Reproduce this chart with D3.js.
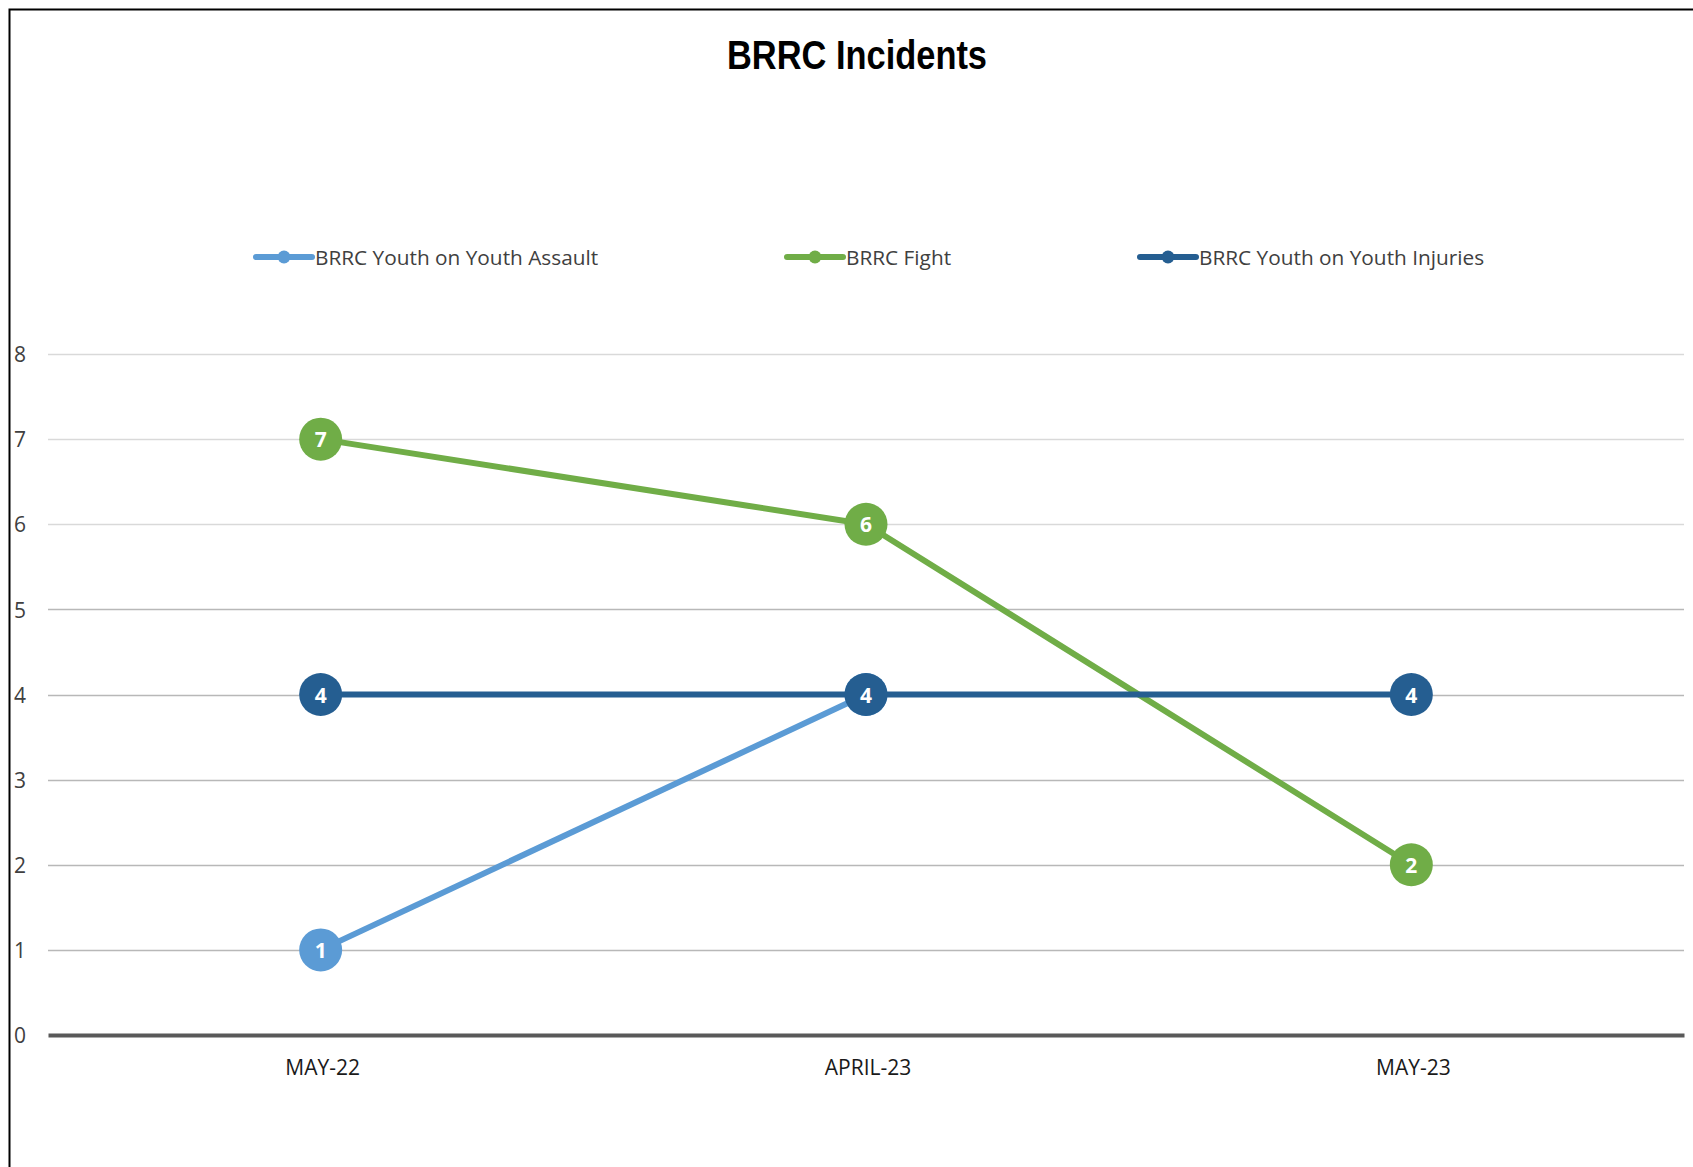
<!DOCTYPE html>
<html>
<head>
<meta charset="utf-8">
<script src="https://cdn.jsdelivr.net/npm/d3@7"></script>
<style>
  html, body { margin: 0; padding: 0; background: #fff; }
  svg { display: block; }
</style>
</head>
<body>
<svg id="chart" width="1693" height="1167"></svg>
<script>
// Monthly incident counts per category
const months = ["MAY-22", "APRIL-23", "MAY-23"];
const assault = [1, 4, null];
const fight = [7, 6, 2];
const injuries = [4, 4, 4];
const seriesNames = ["BRRC Youth on Youth Assault", "BRRC Fight", "BRRC Youth on Youth Injuries"];
const yTicks = [0, 1, 2, 3, 4, 5, 6, 7, 8];
const title = "BRRC Incidents";

const colors = ["#5b9bd5", "#70ad47", "#255e91"];
const seriesValues = [assault, fight, injuries];

const svg = d3.select("#chart");
const W = 1693, H = 1167;

// outer frame (top and left edges visible; right/bottom run off the canvas)
svg.append("rect").attr("x", 9.5).attr("y", 9.5).attr("width", W + 20).attr("height", H + 20)
  .attr("fill", "#fff").attr("stroke", "#000").attr("stroke-width", 2);

const plot = { left: 48, right: 1684, top: 354, bottom: 1035 };

const x = d3.scaleBand().domain(months).range([plot.left, plot.right]).padding(0);
const y = d3.scaleLinear().domain([0, 8]).range([plot.bottom, plot.top]);
const cx = m => x(m) + x.bandwidth() / 2;

// title
svg.append("text")
  .attr("x", 857).attr("y", 69)
  .attr("text-anchor", "middle")
  .attr("font-family", "'Liberation Sans', Arial, sans-serif")
  .attr("font-weight", "bold")
  .attr("font-size", 40)
  .attr("textLength", 260).attr("lengthAdjust", "spacingAndGlyphs")
  .attr("fill", "#000")
  .text(title);

// gridlines
const grid = svg.append("g");
grid.selectAll("line").data(yTicks.filter(t => t > 0)).join("line")
  .attr("x1", plot.left).attr("x2", plot.right)
  .attr("y1", d => Math.round(y(d)) + 0.5).attr("y2", d => Math.round(y(d)) + 0.5)
  .attr("stroke", d => d <= 5 ? "#b8b8b8" : "#d9d9d9")
  .attr("stroke-width", 1.5);

// y-axis labels
const yAxis = d3.axisLeft(y).tickValues(yTicks).tickSize(0).tickFormat(d3.format("d"));
const yg = svg.append("g").attr("transform", "translate(26,1)").call(yAxis);
yg.select(".domain").remove();
yg.selectAll("text")
  .attr("x", 0).attr("dx", 0)
  .attr("text-anchor", "end")
  .attr("font-family", "'Open Sans', sans-serif")
  .attr("font-size", 21)
  .attr("fill", "#404040");

// category axis
const xAxis = d3.axisBottom(x).tickSize(0).tickPadding(0);
const xg = svg.append("g").attr("transform", `translate(0,${plot.bottom})`).call(xAxis);
xg.select(".domain").attr("stroke", "#595959").attr("stroke-width", 4);
xg.selectAll("text")
  .attr("x", 2).attr("y", 40).attr("dy", 0)
  .attr("font-family", "'Open Sans', sans-serif")
  .attr("font-size", 21)
  .attr("fill", "#1a1a1a");

// series lines, markers and value labels
const line = d3.line()
  .defined(d => d.v != null)
  .x(d => cx(d.m))
  .y(d => y(d.v));

seriesValues.forEach((vals, i) => {
  const pts = months.map((m, j) => ({ m, v: vals[j] }));
  const g = svg.append("g");
  g.append("path").datum(pts)
    .attr("d", line)
    .attr("fill", "none")
    .attr("stroke", colors[i])
    .attr("stroke-width", 6)
    .attr("stroke-linejoin", "round");
  const dots = pts.filter(d => d.v != null);
  g.selectAll("circle").data(dots).join("circle")
    .attr("cx", d => cx(d.m)).attr("cy", d => y(d.v))
    .attr("r", 21.5)
    .attr("fill", colors[i]);
  g.selectAll("text").data(dots).join("text")
    .attr("x", d => cx(d.m)).attr("y", d => y(d.v) + 8)
    .attr("text-anchor", "middle")
    .attr("font-family", "'Open Sans', sans-serif")
    .attr("font-weight", "bold")
    .attr("font-size", 21)
    .attr("fill", "#fff")
    .text(d => d.v);
});

// legend
const legendItems = [
  { name: seriesNames[0], color: colors[0], x0: 256 },
  { name: seriesNames[1], color: colors[1], x0: 787 },
  { name: seriesNames[2], color: colors[2], x0: 1140 }
];
const legendY = 257;
const lg = svg.append("g");
legendItems.forEach(it => {
  const g = lg.append("g").attr("transform", `translate(${it.x0},${legendY})`);
  g.append("line").attr("x1", 0).attr("x2", 56).attr("y1", 0).attr("y2", 0)
    .attr("stroke", it.color).attr("stroke-width", 6).attr("stroke-linecap", "round");
  g.append("circle").attr("cx", 28).attr("cy", 0).attr("r", 6.5).attr("fill", it.color);
  g.append("text").attr("x", 59).attr("y", 8)
    .attr("font-family", "'Open Sans', sans-serif")
    .attr("font-size", 20.8)
    .attr("fill", "#404040")
    .text(it.name);
});
</script>
</body>
</html>
